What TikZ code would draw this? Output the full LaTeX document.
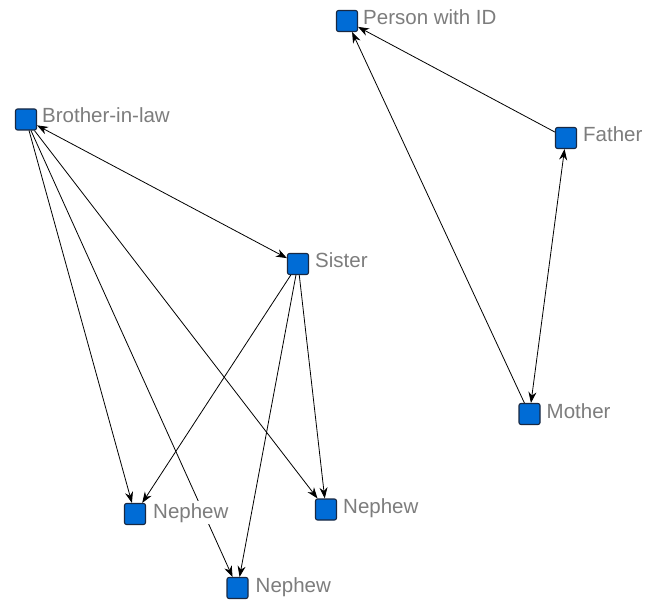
\documentclass[tikz,border=0pt]{standalone}
\usepackage{fontspec}
\setmainfont{Liberation Sans}
\usetikzlibrary{arrows.meta}
\definecolor{nodeblue}{RGB}{0,108,214}
\definecolor{nodeedge}{RGB}{25,40,65}
\definecolor{labgray}{RGB}{125,125,125}
\tikzset{
  vert/.style={draw=nodeedge, line width=1.1pt, fill=nodeblue, rounded corners=2pt,
    minimum width=21pt, minimum height=21pt, inner sep=0pt},
  vlab/.style={anchor=base west, text=labgray, fill=white, inner xsep=1pt, inner ysep=2pt,
    font=\fontsize{20.5}{22}\selectfont},
  edge/.style={draw=black, line width=0.8pt, -{Stealth[length=11pt,width=8pt]}},
  dedge/.style={draw=black, line width=0.8pt, {Stealth[length=11pt,width=8pt]}-{Stealth[length=11pt,width=8pt]}}
}
\begin{document}
\begin{tikzpicture}[x=1pt,y=-1pt]
\useasboundingbox[fill=white] (0,0) rectangle (658,601);
% nodes
\node[vert] (bil) at (26,119.5) {};
\node[vert] (pid) at (347,21) {};
\node[vert] (sis) at (298,264) {};
\node[vert] (fat) at (566,138) {};
\node[vert] (mot) at (529.5,414) {};
\node[vert] (n1) at (135,514) {};
\node[vert] (n2) at (237.5,588) {};
\node[vert] (n3) at (326,509.5) {};
% edges
\draw[dedge] (bil) -- (sis);
\draw[edge] (bil) -- (n1);
\draw[edge] (bil) -- (n2);
\draw[edge] (bil) -- (n3);
\draw[edge] (sis) -- (n1);
\draw[edge] (sis) -- (n2);
\draw[edge] (sis) -- (n3);
\draw[edge] (fat) -- (pid);
\draw[edge] (mot) -- (pid);
\draw[dedge] (fat) -- (mot);
% labels
\node[vlab] (bil-l) at ([shift={(15,3.5)}]bil.center) {Brother-in-law};
\node[vlab] (pid-l) at ([shift={(15,4)}]pid.center) {Person with ID};
\node[vlab] (sis-l) at ([shift={(16,4)}]sis.center) {Sister};
\node[vlab] (fat-l) at ([shift={(16,4)}]fat.center) {Father};
\node[vlab] (mot-l) at ([shift={(16,4)}]mot.center) {Mother};
\node[vlab] (n1-l) at ([shift={(17,4)}]n1.center) {Nephew};
\node[vlab] (n2-l) at ([shift={(17,4)}]n2.center) {Nephew};
\node[vlab] (n3-l) at ([shift={(16,4)}]n3.center) {Nephew};
\end{tikzpicture}
\end{document}
